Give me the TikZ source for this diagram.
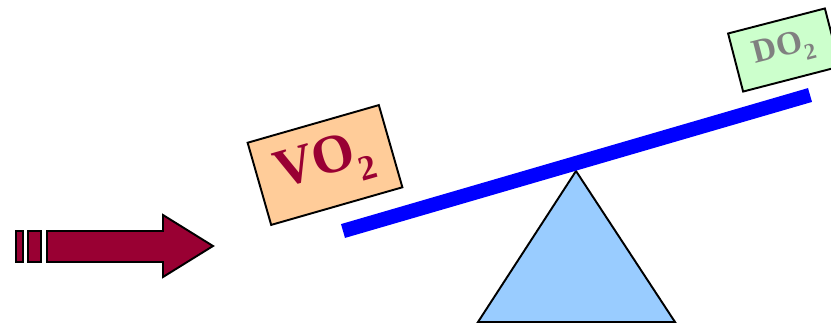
\documentclass[tikz,border=0pt]{standalone}
\usepackage{fontspec}
\setmainfont{Liberation Serif}
\definecolor{wine}{RGB}{153,0,51}
\definecolor{peach}{RGB}{255,204,153}
\definecolor{mint}{RGB}{204,255,204}
\definecolor{sky}{RGB}{153,204,255}
\newcommand{\lowsub}[2]{\raisebox{-0.3em}{\fontsize{#1}{#1}\selectfont #2}}
\tikzset{
  tag/.style={draw=black,line width=1.1pt,inner sep=0pt},
  stripe/.style={fill=wine,draw=black,line width=1.1pt,line join=miter}
}

\begin{document}
\begin{tikzpicture}[x=0.02cm,y=-0.02cm]
  \useasboundingbox (0,0) rectangle (831,326);
  % fulcrum
  \coordinate (top) at (576,171);
  \coordinate (baseL) at (478,322);
  \coordinate (baseR) at (675,322);
  \draw[fill=sky,line width=1.1pt] (top) -- (baseL) -- (baseR) -- cycle;
  % beam
  \coordinate (beamL) at (343,231);
  \coordinate (beamR) at (810,95);
  \draw[blue,line width=8.2pt] (beamL) -- (beamR);
  % loads on the beam
  \node[tag,fill=peach,text=wine,minimum width=2.73cm,minimum height=1.71cm,rotate=16,
        font=\fontsize{31}{33}\selectfont\bfseries] (vo) at (325,165) {VO\lowsub{20}{2}};
  \node[tag,fill=mint,text=gray,minimum width=2.0cm,minimum height=1.2cm,rotate=14.5,
        font=\fontsize{19}{21}\selectfont\bfseries] (do) at (784,50) {DO\lowsub{13}{2}};
  % striped arrow
  \draw[stripe] (16,231) rectangle (23,262);
  \draw[stripe] (28,231) rectangle (41,262);
  \draw[stripe] (47,231) -- (163,231) -- (163,215) -- (213,246) -- (163,277)
    -- (163,262) -- (47,262) -- cycle;
\end{tikzpicture}
\end{document}
